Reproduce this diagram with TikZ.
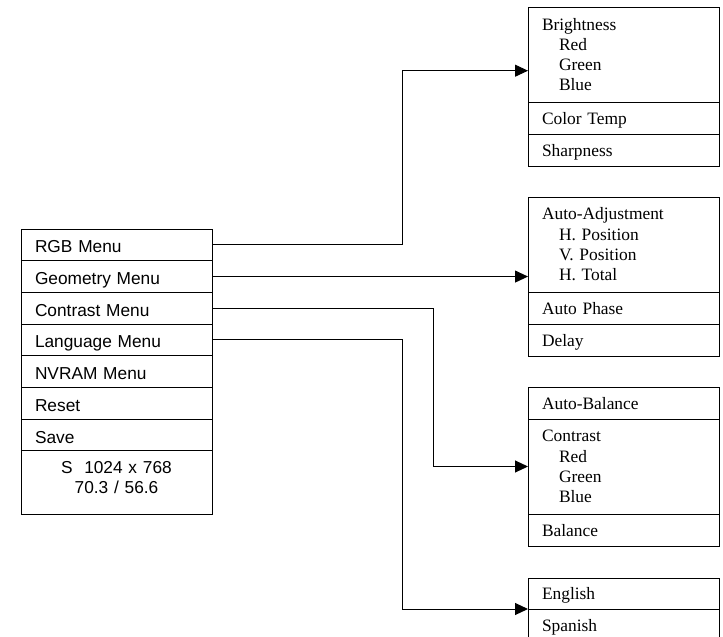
\documentclass[tikz,border=0pt]{standalone}
\usepackage{fontspec}
\setmainfont{Liberation Serif}
\setsansfont{Liberation Sans}
\usetikzlibrary{positioning,arrows.meta}

\begin{document}
\begin{tikzpicture}[x=1pt,y=-1pt,
	cell/.style={draw,line width=1pt,outer sep=0pt,anchor=north west,minimum width=191pt,
		inner xsep=14pt,text width=163pt,align=left},
	lcell/.style={cell,minimum height=31.7pt,text height=16pt,text depth=0pt,font=\fontsize{17.3}{20}\sffamily},
	rcell/.style={cell,minimum height=32pt,text height=12.8pt,text depth=0pt,font=\fontsize{17.4}{20.3}\selectfont},
	rlist/.style={cell,minimum height=95pt,font=\fontsize{17.4}{20.3}\selectfont},
	link/.style={line width=1pt,-{Triangle[length=13pt,width=12pt]}}]
		\clip (0,0) rectangle (723,637);
		
		\node[lcell] (rgb) at (21,229) {RGB Menu};
		\node[lcell,below=0pt of rgb] (geo) {Geometry Menu};
		\node[lcell,below=0pt of geo] (con) {Contrast Menu};
		\node[lcell,below=0pt of con] (lang) {Language Menu};
		\node[lcell,below=0pt of lang] (nvram) {NVRAM Menu};
		\node[lcell,below=0pt of nvram] (reset) {Reset};
		\node[lcell,below=0pt of reset] (save) {Save};
		\node[cell,below=0pt of save,minimum height=63.3pt,align=center,font=\fontsize{17.3}{20}\sffamily] (mode) {S\ \ 1024 x 768\\70.3 / 56.6\\[-10pt]\mbox{}};
		
		\node[rlist] (bright) at (528,7) {Brightness\\\hspace*{17pt}Red\\\hspace*{17pt}Green\\\hspace*{17pt}Blue};
		\node[rcell,below=0pt of bright] (ctemp) {Color Temp};
		\node[rcell,below=0pt of ctemp] (sharp) {Sharpness};
		
		\node[rlist] (auto) at (528,197) {Auto-Adjustment\\\hspace*{17pt}H. Position\\\hspace*{17pt}V. Position\\\hspace*{17pt}H. Total};
		\node[rcell,below=0pt of auto] (phase) {Auto Phase};
		\node[rcell,below=0pt of phase] (delay) {Delay};
		
		\node[rcell] (abal) at (528,387) {Auto-Balance};
		\node[rlist,below=0pt of abal] (ctr) {Contrast\\\hspace*{17pt}Red\\\hspace*{17pt}Green\\\hspace*{17pt}Blue};
		\node[rcell,below=0pt of ctr] (bal) {Balance};
		
		\node[rcell,minimum height=31pt] (eng) at (528,578) {English};
		\node[rcell,below=0pt of eng] (spa) {Spanish};
		
		\draw[link] (rgb.east) -- ++(190,0) |- ([yshift=-16.2pt]bright.west);
		\draw[link] (geo.east) -- (geo.east -| auto.west);
		\draw[link] (con.east) -- ++(221,0) |- (ctr.west);
		\draw[link] (lang.east) -- ++(190,0) |- (eng.south west);
\end{tikzpicture}
\end{document}
